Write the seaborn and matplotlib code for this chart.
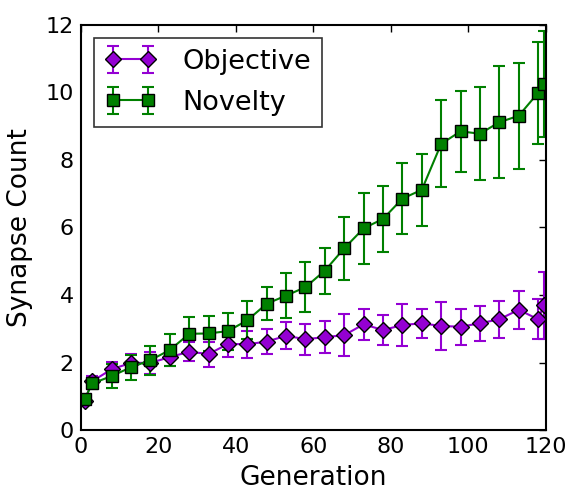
import numpy as np
import pandas as pd
import seaborn as sns
import matplotlib.pyplot as plt
from matplotlib.legend_handler import HandlerTuple

# ------------------------------------------------------------------
# data
# ------------------------------------------------------------------
generations = [1, 3, 8, 13, 18, 23, 28, 33, 38, 43, 48, 53, 58, 63, 68,
               73, 78, 83, 88, 93, 98, 103, 108, 113, 118, 119.5]

objective_mean = [0.87, 1.45, 1.80, 1.99, 1.99, 2.16, 2.32, 2.25, 2.55, 2.54,
                  2.62, 2.79, 2.69, 2.75, 2.81, 3.13, 2.96, 3.11, 3.16, 3.08,
                  3.06, 3.16, 3.28, 3.56, 3.28, 3.70]
objective_err = [0.10, 0.15, 0.22, 0.26, 0.32, 0.27, 0.28, 0.37, 0.40, 0.40,
                 0.37, 0.40, 0.46, 0.48, 0.62, 0.45, 0.44, 0.62, 0.42, 0.72,
                 0.53, 0.52, 0.55, 0.56, 0.59, 0.99]

novelty_mean = [0.91, 1.38, 1.60, 1.86, 2.07, 2.37, 2.85, 2.86, 2.93, 3.25,
                3.74, 3.98, 4.23, 4.72, 5.38, 5.97, 6.25, 6.85, 7.11, 8.47,
                8.84, 8.77, 9.11, 9.30, 9.98, 10.24]
novelty_err = [0.10, 0.15, 0.36, 0.37, 0.43, 0.46, 0.51, 0.52, 0.55, 0.56,
               0.48, 0.67, 0.73, 0.68, 0.94, 1.06, 0.97, 1.04, 1.07, 1.29,
               1.20, 1.37, 1.66, 1.57, 1.50, 1.58]

series = [
    ("Objective", objective_mean, objective_err, "#9400d3", "D"),
    ("Novelty", novelty_mean, novelty_err, "#008000", "s"),
]

# ------------------------------------------------------------------
# plot
# ------------------------------------------------------------------
sns.set_style("white")
plt.rcParams['font.family'] = ['DejaVu Sans']
plt.rcParams['text.color'] = 'black'
plt.rcParams['axes.labelcolor'] = 'black'
plt.rcParams['xtick.color'] = 'black'
plt.rcParams['ytick.color'] = 'black'

fig = plt.figure(figsize=(5.68, 4.91), dpi=100)
ax = fig.add_axes([0.142, 0.124, 0.819, 0.826])

handles = []
for name, mean, err, color, marker in series:
    df = pd.DataFrame({"Generation": generations, "count": mean})
    sns.lineplot(data=df, x="Generation", y="count", ax=ax, color=color,
                 marker=marker, markersize=8, markeredgecolor="black",
                 markeredgewidth=1, linewidth=1.5, label=name, legend=False)
    line = ax.lines[-1]
    eb = ax.errorbar(generations, mean, yerr=err, fmt="none", ecolor=color,
                     elinewidth=1.5, capsize=4, capthick=1.5, zorder=1.9)
    handles.append((eb, line))

ax.set_xlim(0, 120)
ax.set_ylim(0, 12)
ax.set_xticks(np.arange(0, 121, 20))
ax.set_yticks(np.arange(0, 13, 2))
ax.set_xlabel("Generation", fontsize=19, labelpad=6)
ax.set_ylabel("Synapse Count", fontsize=19, labelpad=9)
ax.tick_params(direction="in", length=5, width=1, labelsize=16,
               top=True, right=True, pad=5)
for sp in ax.spines.values():
    sp.set_color("black")
    sp.set_linewidth(1.5)

leg = ax.legend(handles, [s[0] for s in series], loc="upper left",
                handler_map={tuple: HandlerTuple(ndivide=1)},
                numpoints=2, fontsize=19.5, frameon=True, fancybox=False,
                borderaxespad=0.5, handlelength=1.9, labelspacing=0.55,
                handletextpad=0.95)
leg.get_frame().set_edgecolor("black")
leg.get_frame().set_linewidth(1.2)

fig.savefig("out.png", dpi=100)
